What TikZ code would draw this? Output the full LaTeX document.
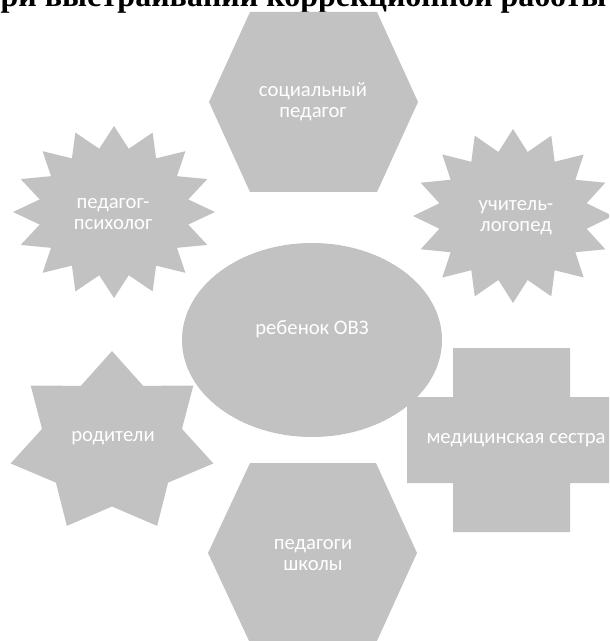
\documentclass[tikz,border=0pt]{standalone}
\usepackage{fontspec}
\setmainfont{Carlito}
\newfontfamily\titlefont{Liberation Serif}
\definecolor{shapegray}{gray}{0.76}

\begin{document}
\begin{tikzpicture}[x=0.75pt,y=0.75pt,
    blob/.style={fill=shapegray},
    lbl/.style={text=white,align=center,inner sep=0pt,font=\fontsize{15.5}{16}\selectfont}]
\useasboundingbox (0,0) rectangle (609,-641);
\clip (0,0) rectangle (609,-641);
% title line, cut by the top edge
\node[anchor=base west,inner sep=0pt,font=\titlefont\bfseries\fontsize{24}{28}\selectfont] (title) at (-18,-7) {при выстраивании коррекционной работы};
% hexagons
\fill[blob] (250,-12) -- (377,-12) -- (418,-102) -- (377,-192) -- (250,-192) -- (209,-102) -- cycle;
\fill[blob] (250,-463) -- (376,-463) -- (417,-553) -- (376,-643) -- (250,-643) -- (208,-553) -- cycle;
% stars
\fill[blob,shift={(114,-212)},xscale=101,yscale=86] (90:1)
    \foreach \k in {1,...,31}{ -- ({90+11.25*\k}:{ifthenelse(mod(\k,2)==0,1,0.75)}) } -- cycle;
\fill[blob,shift={(513,-216)},xscale=100,yscale=87] (90:1)
    \foreach \k in {1,...,31}{ -- ({90+11.25*\k}:{ifthenelse(mod(\k,2)==0,1,0.75)}) } -- cycle;
\fill[blob,shift={(112,-443)},xscale=104,yscale=92] (90:1)
    \foreach \k in {1,...,13}{ -- ({90+180/7*\k}:{ifthenelse(mod(\k,2)==0,1,0.69)}) } -- cycle;
% centre ellipse
\fill[blob] (312,-340) ellipse [x radius=130, y radius=97];
% cross
\fill[blob] (453,-348) -- (570,-348) -- (570,-397) -- (615,-397) -- (615,-483) -- (570,-483)
    -- (570,-532) -- (453,-532) -- (453,-483) -- (407,-483) -- (407,-397) -- (453,-397) -- cycle;
% labels
\node[lbl] (socped) at (313,-102) {социальный\\педагог};
\node[lbl] (psych) at (113,-214) {педагог-\\психолог};
\node[lbl] (logoped) at (516,-218) {учитель-\\логопед};
\node[lbl] (child) at (312,-329) {ребенок ОВЗ};
\node[lbl] (parents) at (113,-438) {родители};
\node[lbl] (nurse) at (516,-440) {медицинская сестра};
\node[lbl] (teachers) at (313,-555) {педагоги\\школы};
\end{tikzpicture}
\end{document}
